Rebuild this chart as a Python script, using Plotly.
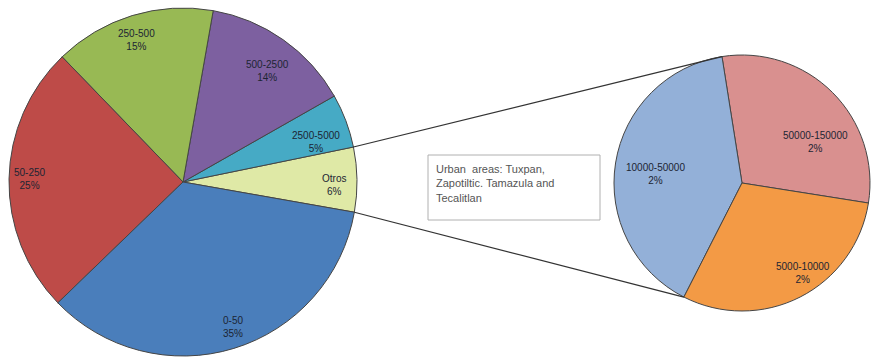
import math
import plotly.graph_objects as go

# ---- data ----
main_labels = ["Otros", "2500-5000", "500-2500", "250-500", "50-250", "0-50"]
main_values = [6, 5, 14, 15, 25, 35]

sub_labels = ["50000-150000", "10000-50000", "5000-10000"]
sub_values = [1.8, 2.4, 1.8]

note_text = "Urban  areas: Tuxpan,<br>Zapotiltic. Tamazula and<br>Tecalitlan"

# ---- styles ----
main_colors = ["#dfe9a6", "#46aac5", "#7d60a0", "#98b954", "#be4b48", "#4a7ebb"]
sub_colors = ["#d9908f", "#93b0d8", "#f39a45"]
# label placement (fraction of radius, angle offset in degrees)
main_lab_r = [0.87, 0.80, 0.80, 0.86, 0.88, 0.88]
main_lab_da = [-2, -4, -2, 1, 0, 2]
sub_lab_r = [0.66, 0.68, 0.85]
sub_lab_da = [-16, 3, 7]

W, H = 871, 357
start_main = -10   # math angle (deg) where first slice starts, counterclockwise
start_sub = -9

mc, mr = (183, 182), 174
sc, sr = (742, 183), 128

FONT = "Liberation Sans"
TXT = "#1c2533"


def px_dom(c, r):
    return dict(x=[max(0, (c[0] - r) / W), min(1, (c[0] + r) / W)],
                y=[max(0, 1 - (c[1] + r) / H), min(1, 1 - (c[1] - r) / H)])


def pt(c, r, ang):
    a = math.radians(ang)
    return ((c[0] + r * math.cos(a)) / W, 1 - (c[1] - r * math.sin(a)) / H)


def slice_angles(values, start):
    tot = sum(values)
    out, a = [], start
    for v in values:
        span = 360 * v / tot
        out.append((a, a + span))
        a += span
    return out


def add_pie(values, labels, colors, start, c, r):
    tot = sum(values)
    # plotly (counterclockwise) puts the end of the first slice at 90 - rotation
    rot = 90 - (start + 360 * values[0] / tot)
    fig.add_trace(go.Pie(
        labels=labels, values=values, sort=False,
        direction="counterclockwise", rotation=rot,
        domain=px_dom(c, r),
        marker=dict(colors=colors, line=dict(color="#454545", width=1)),
        textinfo="none", showlegend=False, hoverinfo="label+value"))


fig = go.Figure()
add_pie(main_values, main_labels, main_colors, start_main, mc, mr)
add_pie(sub_values, sub_labels, sub_colors, start_sub, sc, sr)

annotations = []
for lab, v, (a0, a1), rf, da in zip(main_labels, main_values,
                                     slice_angles(main_values, start_main),
                                     main_lab_r, main_lab_da):
    x, y = pt(mc, mr * rf, (a0 + a1) / 2 + da)
    annotations.append(dict(xref="paper", yref="paper", x=x, y=y,
                            xanchor="center", yanchor="middle",
                            text=f"{lab}<br>{v}%", showarrow=False,
                            font=dict(family=FONT, size=10, color=TXT)))
for lab, v, (a0, a1), rf, da in zip(sub_labels, sub_values,
                                    slice_angles(sub_values, start_sub),
                                    sub_lab_r, sub_lab_da):
    x, y = pt(sc, sr * rf, (a0 + a1) / 2 + da)
    annotations.append(dict(xref="paper", yref="paper", x=x, y=y,
                            xanchor="center", yanchor="middle",
                            text=f"{lab}<br>{round(v)}%", showarrow=False,
                            font=dict(family=FONT, size=10, color=TXT)))

annotations.append(dict(xref="paper", yref="paper", x=434 / W, y=1 - 161 / H,
                        xanchor="left", yanchor="top", align="left",
                        showarrow=False, text=note_text,
                        font=dict(family=FONT, size=11, color="#555555")))

# connector lines from Otros slice edges to the secondary pie
o0, o1 = slice_angles(main_values, start_main)[0]
s_ang = slice_angles(sub_values, start_sub)[1]  # the blue slice facing left
p_top_main, p_bot_main = pt(mc, mr, o1), pt(mc, mr, o0)
p_top_sub, p_bot_sub = pt(sc, sr, s_ang[0]), pt(sc, sr, s_ang[1])

shapes = [
    dict(type="line", xref="paper", yref="paper",
         x0=p_top_main[0], y0=p_top_main[1], x1=p_top_sub[0], y1=p_top_sub[1],
         line=dict(color="#333333", width=1.2)),
    dict(type="line", xref="paper", yref="paper",
         x0=p_bot_main[0], y0=p_bot_main[1], x1=p_bot_sub[0], y1=p_bot_sub[1],
         line=dict(color="#333333", width=1.2)),
    dict(type="rect", xref="paper", yref="paper", layer="below",
         x0=428 / W, x1=600 / W, y0=1 - 220 / H, y1=1 - 155 / H,
         line=dict(color="#b0b0b0", width=1), fillcolor="white"),
]

fig.update_layout(
    width=W, height=H, margin=dict(l=0, r=0, t=0, b=0),
    paper_bgcolor="white", plot_bgcolor="white",
    shapes=shapes, annotations=annotations,
)

fig.write_html("out.html", config={"displayModeBar": False},
               post_script="document.body.style.margin='0';")
